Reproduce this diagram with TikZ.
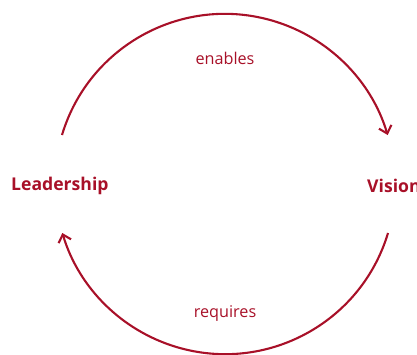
\documentclass[tikz,border=0pt]{standalone}
\usepackage{fontspec}
\setmainfont{Open Sans}
\usepackage{tikz}
\usetikzlibrary{arrows.meta,calc}
\definecolor{darkred}{RGB}{168,16,40}

\begin{document}
\begin{tikzpicture}[x=1pt,y=-1pt,
term/.style={font=\fontsize{17.6}{20}\selectfont\bfseries,text=darkred,inner sep=0pt},
verb/.style={font=\fontsize{16.2}{19}\selectfont,text=darkred,inner sep=0pt},
cycle/.style={draw=darkred,line width=2.1pt,-{Straight Barb[length=7pt,width=13pt,line width=2.1pt]}}]
\useasboundingbox (0,0) rectangle (417,354);
\coordinate (centre) at (225,184);
% the two ends of each arc
\coordinate (topleft) at ($(centre)+(-163,-49)$);
\coordinate (botright) at ($(centre)+(163,49)$);
\node (lead) [term,anchor=west] at (11,186) {Leadership};
\node (vis) [term,anchor=west] at (367,186) {Vision};
\node (enab) [verb] at (225,58) {enables};
\node (requ) [verb] at (225,313) {requires};
\draw [cycle] (topleft) arc[start angle=196.7,end angle=343.3,radius=170];
\draw [cycle] (botright) arc[start angle=16.7,end angle=163.3,radius=170];
\end{tikzpicture}
\end{document}
